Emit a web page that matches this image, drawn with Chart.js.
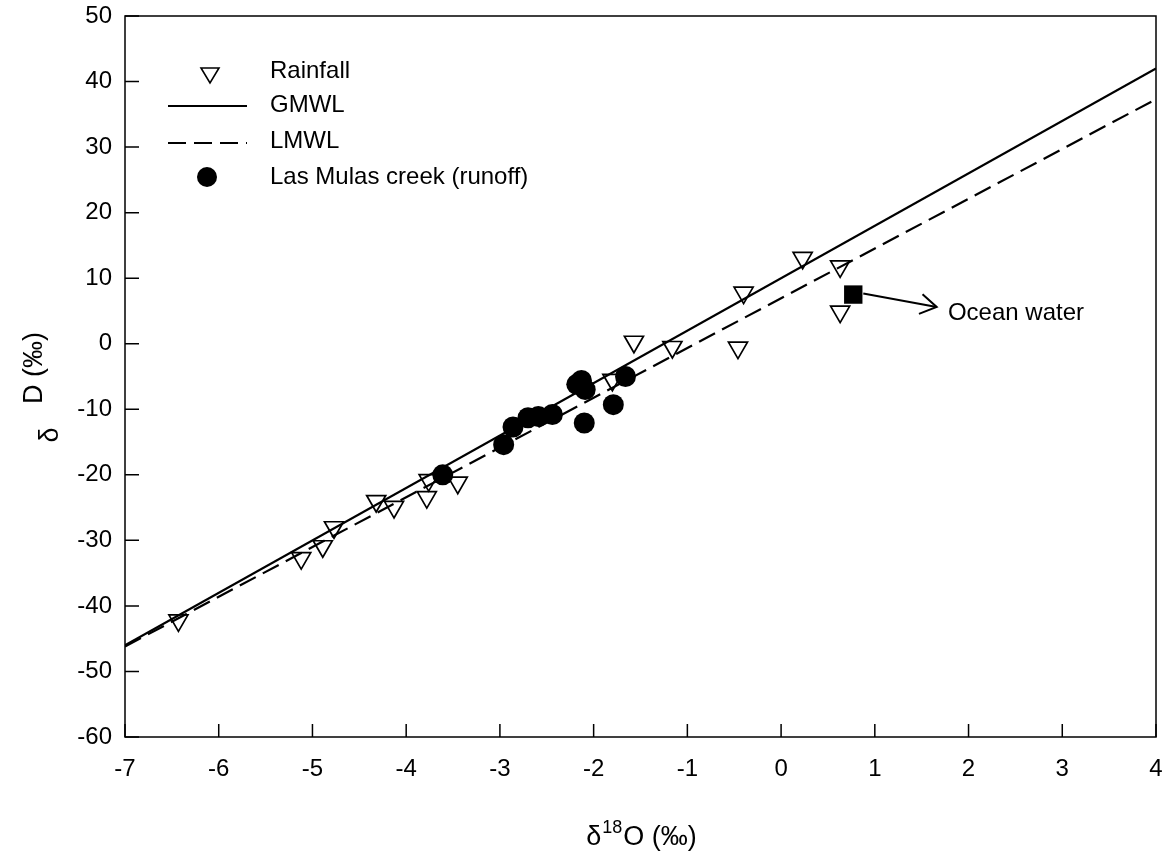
<!DOCTYPE html>
<html>
<head>
<meta charset="utf-8">
<script src="https://cdn.jsdelivr.net/npm/chart.js@4.4.1/dist/chart.umd.min.js"></script>
<style>
  html, body { margin: 0; padding: 0; background: #fff; }
  #wrap { width: 1171px; height: 854px; position: relative; }
</style>
</head>
<body>
<div id="wrap"><canvas id="chart"></canvas></div>
<script>
// values
var rainfallX = [-6.43, -5.12, -4.89, -4.77, -4.32, -4.13, -3.78, -3.76, -3.45, -1.80, -1.57, -1.16, -0.46, -0.40, 0.23, 0.63, 0.63];
var rainfallY = [-42.2, -32.7, -30.9, -28.0, -24.0, -24.9, -23.4, -20.8, -21.2, -5.5, 0.3, -0.5, -0.6, 7.8, 13.1, 11.8, 4.9];

var creekX = [-3.61, -2.96, -2.86, -2.70, -2.59, -2.44, -2.18, -2.13, -2.09, -1.66, -1.79, -2.10];
var creekY = [-20.0, -15.4, -12.7, -11.3, -11.1, -10.8, -6.2, -5.6, -7.0, -5.0, -9.3, -12.1];

var oceanX = [0.77];
var oceanY = [7.5];

var lineX = [-7, 4];
var gmwlY = [-46, 42];
var lmwlY = [-46.2, 37.3];

var xTicks = [-7, -6, -5, -4, -3, -2, -1, 0, 1, 2, 3, 4];
var yTicks = [-60, -50, -40, -30, -20, -10, 0, 10, 20, 30, 40, 50];

var legendLabels = ["Rainfall", "GMWL", "LMWL", "Las Mulas creek (runoff)"];
var oceanLabel = "Ocean water";
var arrowTip = { x: 1.66, y: 5.6 };
var labelAt = { x: 1.78, y: 4.6 };

var FONT = "'Liberation Sans', Arial, sans-serif";

function pairs(xs, ys) {
  return xs.map(function(x, i) { return { x: x, y: ys[i] }; });
}

// frame, inward ticks, legend, axis titles and the ocean water note
var decorations = {
  id: "decorations",
  afterDatasetsDraw: function(chart) {
    var ctx = chart.ctx;
    var a = chart.chartArea;
    var xs = chart.scales.x, ys = chart.scales.y;
    ctx.save();
    ctx.strokeStyle = "#000";
    ctx.fillStyle = "#000";
    ctx.lineWidth = 1.5;
    ctx.strokeRect(a.left, a.top, a.right - a.left, a.bottom - a.top);

    ctx.beginPath();
    xTicks.forEach(function(v) {
      var p = xs.getPixelForValue(v);
      ctx.moveTo(p, a.bottom); ctx.lineTo(p, a.bottom - 13);
    });
    yTicks.forEach(function(v) {
      var p = ys.getPixelForValue(v);
      ctx.moveTo(a.left, p); ctx.lineTo(a.left + 14, p);
    });
    ctx.stroke();

    // legend
    ctx.font = "24px " + FONT;
    ctx.textBaseline = "middle";
    ctx.textAlign = "left";
    var tx = 270;
    // triangle (pointing down)
    ctx.lineWidth = 1.6;
    ctx.beginPath();
    ctx.moveTo(201, 68); ctx.lineTo(219, 68); ctx.lineTo(210, 83); ctx.closePath();
    ctx.stroke();
    ctx.fillText(legendLabels[0], tx, 71);
    ctx.lineWidth = 2;
    ctx.beginPath(); ctx.moveTo(168, 106); ctx.lineTo(247, 106); ctx.stroke();
    ctx.fillText(legendLabels[1], tx, 105);
    ctx.setLineDash([18, 8]);
    ctx.beginPath(); ctx.moveTo(168, 143); ctx.lineTo(247, 143); ctx.stroke();
    ctx.setLineDash([]);
    ctx.fillText(legendLabels[2], tx, 141);
    ctx.beginPath(); ctx.arc(207, 177, 10, 0, Math.PI * 2); ctx.fill();
    ctx.fillText(legendLabels[3], tx, 177);

    // ocean water arrow + label
    var sx = xs.getPixelForValue(oceanX[0]) + 10, sy = ys.getPixelForValue(oceanY[0]) - 1;
    var ex = xs.getPixelForValue(arrowTip.x), ey = ys.getPixelForValue(arrowTip.y);
    ctx.lineWidth = 2;
    ctx.beginPath(); ctx.moveTo(sx, sy); ctx.lineTo(ex, ey); ctx.stroke();
    var ang = Math.atan2(ey - sy, ex - sx);
    ctx.beginPath();
    ctx.moveTo(ex - 19 * Math.cos(ang - 0.55), ey - 19 * Math.sin(ang - 0.55));
    ctx.lineTo(ex, ey);
    ctx.lineTo(ex - 19 * Math.cos(ang + 0.55), ey - 19 * Math.sin(ang + 0.55));
    ctx.stroke();
    ctx.fillText(oceanLabel, xs.getPixelForValue(labelAt.x), ys.getPixelForValue(labelAt.y));

    // x axis title: δ18O (‰)
    var cx = (a.left + a.right) / 2, by = 845;
    ctx.textBaseline = "alphabetic";
    ctx.font = "27px " + FONT;
    var w1 = ctx.measureText("δ").width;
    var w3 = ctx.measureText("O (‰)").width;
    ctx.font = "18px " + FONT;
    var w2 = ctx.measureText("18").width;
    var x0 = cx - (w1 + w2 + w3) / 2;
    ctx.font = "27px " + FONT;
    ctx.fillText("δ", x0, by);
    ctx.font = "18px " + FONT;
    ctx.fillText("18", x0 + w1 + 1, by - 12);
    ctx.font = "27px " + FONT;
    ctx.fillText("O (‰)", x0 + w1 + w2 + 2, by);

    // y axis title: δD (‰), rotated
    ctx.save();
    ctx.translate(42, 368);
    ctx.rotate(-Math.PI / 2);
    ctx.textAlign = "center";
    ctx.font = "27px " + FONT;
    ctx.fillText("D (‰)", 0, 0);
    ctx.restore();
    ctx.save();
    ctx.translate(58, 435);
    ctx.rotate(-Math.PI / 2);
    ctx.textAlign = "center";
    ctx.font = "27px " + FONT;
    ctx.fillText("δ", 0, 0);
    ctx.restore();

    ctx.restore();
  }
};

new Chart(document.getElementById("chart"), {
  type: "scatter",
  data: {
    datasets: [
      {
        label: "Las Mulas creek (runoff)",
        data: pairs(creekX, creekY),
        pointStyle: "circle",
        pointRadius: 10.5,
        pointHoverRadius: 10.5,
        backgroundColor: "#000",
        borderColor: "#000",
        borderWidth: 0,
        order: 0
      },
      {
        label: "Ocean water",
        data: pairs(oceanX, oceanY),
        pointStyle: "rect",
        pointRadius: 13,
        pointHoverRadius: 13,
        backgroundColor: "#000",
        borderColor: "#000",
        borderWidth: 0,
        order: 1
      },
      {
        label: "Rainfall",
        data: pairs(rainfallX, rainfallY),
        pointStyle: "triangle",
        rotation: 180,
        pointRadius: 11,
        pointHoverRadius: 11,
        backgroundColor: "rgba(255,255,255,0)",
        borderColor: "#000",
        borderWidth: 1.7,
        order: 2
      },
      {
        type: "line",
        label: "GMWL",
        data: pairs(lineX, gmwlY),
        borderColor: "#000",
        borderWidth: 2.2,
        pointRadius: 0,
        fill: false,
        order: 3
      },
      {
        type: "line",
        label: "LMWL",
        data: pairs(lineX, lmwlY),
        borderColor: "#000",
        borderWidth: 2.2,
        borderDash: [18, 8],
        pointRadius: 0,
        fill: false,
        order: 4
      }
    ]
  },
  options: {
    responsive: true,
    maintainAspectRatio: false,
    animation: false,
    layout: { padding: { top: 16, right: 15, left: 0, bottom: 0 } },
    plugins: {
      legend: { display: false },
      tooltip: { enabled: false }
    },
    scales: {
      x: {
        type: "linear",
        min: -7,
        max: 4,
        grid: { display: false, drawTicks: false },
        border: { display: false },
        ticks: {
          stepSize: 1,
          padding: 18,
          color: "#000",
          font: { family: FONT, size: 24 }
        },
        afterFit: function(scale) {
          scale.height = 117;
          scale.paddingLeft = 0;
          scale.paddingRight = 0;
        }
      },
      y: {
        type: "linear",
        min: -60,
        max: 50,
        grid: { display: false, drawTicks: false },
        border: { display: false },
        ticks: {
          stepSize: 10,
          padding: 13,
          color: "#000",
          font: { family: FONT, size: 24 }
        },
        afterFit: function(scale) {
          scale.width = 125;
          scale.paddingTop = 0;
          scale.paddingBottom = 0;
        }
      }
    }
  },
  plugins: [decorations]
});
</script>
</body>
</html>
